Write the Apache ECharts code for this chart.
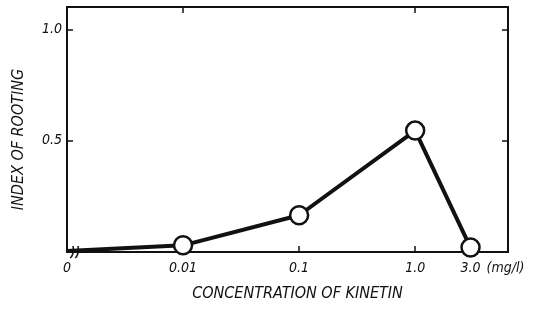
<!DOCTYPE html>
<html>
<head>
<meta charset="utf-8">
<script src="https://cdn.jsdelivr.net/npm/echarts@6/dist/echarts.min.js"></script>
<style>
  html, body { margin: 0; padding: 0; background: #fff; }
  #chart { width: 538px; height: 310px; }
</style>
</head>
<body>
<div id="chart"></div>
<script>
// kinetin concentrations (mg/l), drawn on a log axis; 0 sits one decade left of 0.01
var concLabels = ['0', '0.01', '0.1', '1.0', '3.0']
var concPos = [-3, -2, -1, 0, Math.log10(3)]
var rootIndex = [0.005, 0.03, 0.165, 0.545, 0.02]
var yTicks = [0.5, 1.0]
var yTickLabels = ['0.5', '1.0']

var font = "'DejaVu Sans Condensed', 'Liberation Sans Narrow', sans-serif"
var txt = { fontFamily: font, fontStyle: 'italic', fontSize: 14, color: '#111' }

var chart = echarts.init(document.getElementById('chart'))

var points = concPos.map(function (x, i) {
  var p = { value: [x, rootIndex[i]] }
  if (i === 0) p.symbol = 'none'
  return p
})

var frameLine = { show: true, onZero: false, lineStyle: { color: '#111', width: 2 } }
var tickStyle = { color: '#111', width: 1.5 }

chart.setOption({
  backgroundColor: '#fff',
  animation: false,
  grid: { left: 67, top: 7, right: 30, bottom: 58, containLabel: false },
  xAxis: [{
    type: 'value',
    min: -3,
    max: 0.8,
    name: 'CONCENTRATION OF KINETIN',
    nameLocation: 'middle',
    nameGap: 34,
    nameTextStyle: Object.assign({}, txt, { fontSize: 16, padding: [0, 0, 0, 20] }),
    axisLine: frameLine,
    axisTick: { inside: true, length: 6, lineStyle: tickStyle, customValues: concPos.slice(1) },
    axisLabel: Object.assign({
      customValues: concPos,
      margin: 9,
      formatter: function (v) {
        for (var i = 0; i < concPos.length; i++) {
          if (Math.abs(concPos[i] - v) < 1e-6) {
            if (i === concPos.length - 1) return '{p|}{a|' + concLabels[i] + '}{b| (mg/l)}'
            return concLabels[i]
          }
        }
        return ''
      },
      rich: {
        p: { width: 46 },
        a: txt,
        b: Object.assign({ width: 46 }, txt)
      }
    }, txt),
    splitLine: { show: false }
  }, {
    type: 'value',
    position: 'top',
    min: -3,
    max: 0.8,
    axisLine: frameLine,
    axisTick: { inside: true, length: 6, lineStyle: tickStyle, customValues: [-2, 0] },
    axisLabel: { show: false },
    splitLine: { show: false }
  }],
  yAxis: [{
    type: 'value',
    min: 0,
    max: 1.1,
    name: 'INDEX OF ROOTING',
    nameLocation: 'middle',
    nameGap: 40,
    nameTextStyle: Object.assign({}, txt, { fontSize: 16, padding: [0, 20, 0, 0] }),
    axisLine: frameLine,
    axisTick: { show: true, inside: true, length: 6, lineStyle: tickStyle, customValues: yTicks },
    axisLabel: Object.assign({
      customValues: yTicks,
      margin: 5,
      formatter: function (v) {
        var i = yTicks.indexOf(v)
        return i >= 0 ? yTickLabels[i] : ''
      }
    }, txt),
    splitLine: { show: false }
  }, {
    type: 'value',
    position: 'right',
    min: 0,
    max: 1.1,
    axisLine: frameLine,
    axisTick: { show: true, inside: true, length: 6, lineStyle: tickStyle, customValues: yTicks },
    axisLabel: { show: false },
    splitLine: { show: false }
  }],
  series: [{
    type: 'line',
    data: points,
    symbol: 'circle',
    symbolSize: 18,
    itemStyle: { color: '#fff', borderColor: '#111', borderWidth: 2.5 },
    lineStyle: { color: '#111', width: 4 },
    z: 3
  }]
})

// axis break marks just right of the origin
var bp = chart.convertToPixel({ xAxisIndex: 0, yAxisIndex: 0 }, [-2.93, 0])
chart.setOption({
  graphic: [{
    type: 'group',
    x: bp[0],
    y: bp[1],
    z: 10,
    children: [
      { type: 'rect', shape: { x: -4, y: -3, width: 9, height: 6 }, style: { fill: '#fff' } },
      { type: 'bezierCurve', shape: { x1: -5, y1: 6, x2: -2, y2: -6, cpx1: -1, cpy1: 3 }, style: { stroke: '#111', lineWidth: 1.5, fill: null } },
      { type: 'bezierCurve', shape: { x1: 0, y1: 6, x2: 3, y2: -6, cpx1: 4, cpy1: 3 }, style: { stroke: '#111', lineWidth: 1.5, fill: null } }
    ]
  }]
})
</script>
</body>
</html>
